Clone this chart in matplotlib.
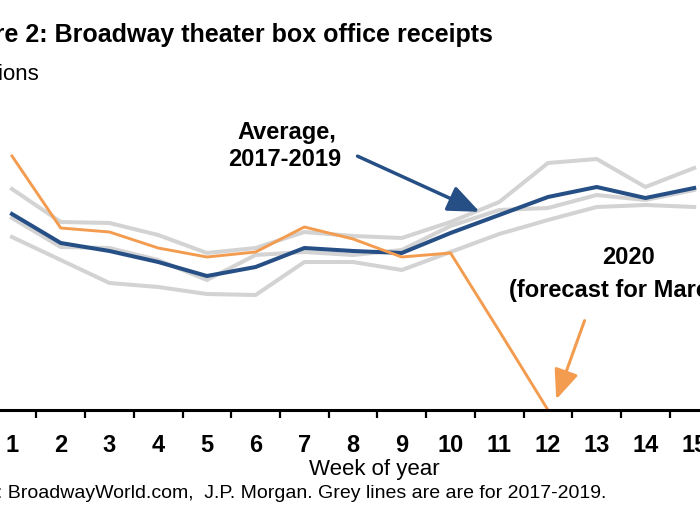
import matplotlib
matplotlib.use('Agg')
import matplotlib.pyplot as plt
from matplotlib import font_manager

# pick a condensed Arial-like face if we have one
names = {f.name for f in font_manager.fontManager.ttflist}
fam = 'Liberation Sans Narrow' if 'Liberation Sans Narrow' in names else 'Liberation Sans'
plt.rcParams['font.family'] = [fam, 'DejaVu Sans']

# Weekly box office receipts, $ millions
weeks = list(range(1, 16))
grey_2017 = [44.2, 37.6, 37.4, 35.0, 31.4, 32.4, 35.6, 34.8, 34.4, 37.6, 41.6, 49.4, 50.2, 44.6, 48.4]
grey_2018 = [38.4, 32.6, 32.4, 30.0, 26.0, 31.0, 31.6, 31.0, 32.0, 36.8, 40.0, 40.4, 43.0, 42.0, 44.0]
grey_2019 = [34.6, 30.0, 25.4, 24.6, 23.2, 23.0, 29.6, 29.6, 28.0, 31.6, 35.2, 38.0, 40.6, 41.0, 40.6]
avg_1719 = [39.2, 33.4, 31.8, 29.6, 26.8, 28.6, 32.4, 31.8, 31.4, 35.4, 39.0, 42.6, 44.6, 42.4, 44.4]
weeks_2020 = list(range(1, 13))
y2020 = [50.8, 36.4, 35.6, 32.4, 30.6, 31.6, 36.6, 34.2, 30.6, 31.4, 15.8, 0.0]

fig = plt.figure(figsize=(7, 5.25), dpi=100)
ax = fig.add_axes([0, 115 / 525, 1, 300 / 525])

for s in [grey_2017, grey_2018, grey_2019]:
    ax.plot(weeks, s, color='#d3d3d3', lw=2.9)
ax.plot(weeks, avg_1719, color='#264f85', lw=2.9)
ax.plot(weeks_2020, y2020, color='#f39c4f', lw=2.1)

for side in ['left', 'top', 'right']:
    ax.spines[side].set_visible(False)
ax.spines['bottom'].set_linewidth(2.2)
ax.set_yticks([])
ax.set_xticks(weeks)
ax.set_xticklabels([str(w) for w in weeks], fontsize=17, fontweight='bold')
ax.set_xticks([w + 0.5 for w in range(0, 16)], minor=True)
ax.tick_params(axis='x', which='major', length=0, pad=17)
ax.tick_params(axis='x', which='minor', length=6, width=1.6, color='black')
# limits after the ticks, set_xticks would widen them
ax.set_xlim(0.754, 15.12)
ax.set_ylim(0, 60)

# annotations
ax.text(6.65, 55.6, 'Average,', ha='center', va='center', fontsize=17, fontweight='bold')
ax.text(6.59, 50.0, '2017-2019', ha='center', va='center', fontsize=17, fontweight='bold')
ax.annotate('', xy=(10.65, 39.4), xytext=(8.04, 51),
            arrowprops=dict(arrowstyle='-|>,head_length=0.6,head_width=0.25',
                            color='#264f85', lw=2.5, mutation_scale=32))
ax.text(13.65, 30.4, '2020', ha='center', va='center', fontsize=17, fontweight='bold')
ax.text(11.20, 23.8, '(forecast for March)', ha='left', va='center', fontsize=17, fontweight='bold')
ax.annotate('', xy=(12.15, 1.6), xytext=(12.77, 18.4),
            arrowprops=dict(arrowstyle='-|>,head_length=0.6,head_width=0.25',
                            color='#f39c4f', lw=2.2, mutation_scale=30))

# figure texts (the reference is cropped on the left)
fig.text(493 / 700, 1 - 35 / 525, 'Figure 2: Broadway theater box office receipts',
         ha='right', va='center', fontsize=18, fontweight='bold')
fig.text(39 / 700, 1 - 75 / 525, '$ millions', ha='right', va='center', fontsize=16)
fig.text(374 / 700, 1 - 470 / 525, 'Week of year', ha='center', va='center', fontsize=16)
fig.text(606 / 700, 1 - 494 / 525,
         'Source: BroadwayWorld.com,  J.P. Morgan. Grey lines are are for 2017-2019.',
         ha='right', va='center', fontsize=14)

plt.savefig('out.png', dpi=100)
